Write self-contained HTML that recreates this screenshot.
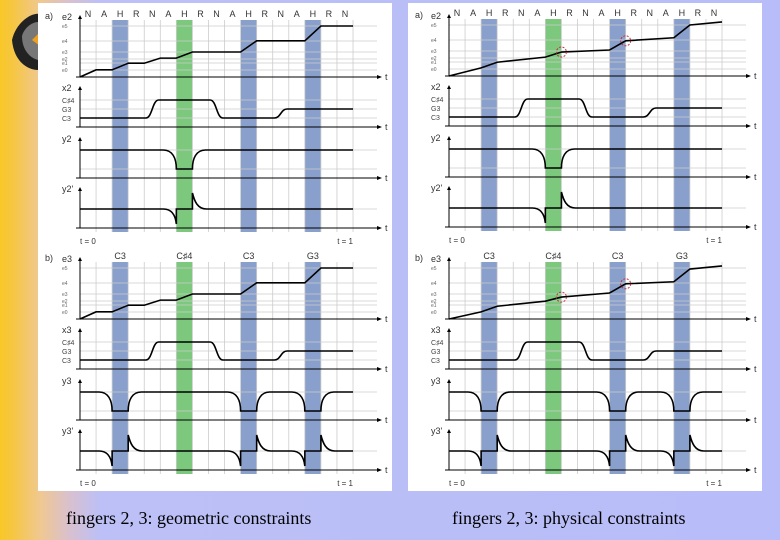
<!DOCTYPE html>
<html><head><meta charset="utf-8"><style>
html,body{margin:0;padding:0;width:780px;height:540px;overflow:hidden}
body{background:linear-gradient(90deg,#f8c828 0px,#f6c640 12px,#f0c890 40px,#d8c0d0 70px,#bcc0f6 100px,#b8bcf8 100%);position:relative;font-family:"Liberation Sans",sans-serif}
.cap{position:absolute;top:508px;font-family:"Liberation Serif",serif;font-size:18px;color:#000;white-space:nowrap}
</style></head><body>
<svg width="60" height="90" style="position:absolute;left:0;top:0">
<path d="M12,40 C16,22 32,12 40,14 L38,70 C28,70 14,62 12,40 Z" fill="#222"/>
<path d="M22,36 C24,28 32,22 38,22 L38,60 C30,58 22,50 22,36 Z" fill="#777"/>
<path d="M32,40 L40,32 L40,46 Z" fill="#f0a020"/>
</svg>
<svg id="chart" width="780" height="540" style="position:absolute;left:0;top:0"></svg>
<div class="cap" style="left:66px">fingers 2, 3: geometric constraints</div>
<div class="cap" style="left:452px">fingers 2, 3: physical constraints</div>
<script>
// ---- data (t in cell units 0..17) ----
const letters = ["N","A","H","R","N","A","H","R","N","A","H","R","N","A","H","R","N"];
const noteLabels = ["C3","C♯4","C3","G3"];
const noteCells = [2,6,10,14];
const bandCells = [2,6,10,14];
const greenBand = 6;
// e-curve (geometric), [t, value 0..1]
const eGeoT = [0,1,2,3,4,5,6,7,10,11,14,15,17];
const eGeoV = [0,0.14,0.14,0.27,0.27,0.37,0.37,0.49,0.49,0.71,0.71,1,1];
// e-curve (physical) panel a and b
const ePhysT = [0,2,3,6,7,10,11,14,15,17];
const ePhysAV = [0,0.16,0.27,0.37,0.47,0.51,0.69,0.75,1.0,1.06];
const ePhysBV = [0,0.14,0.25,0.35,0.43,0.51,0.69,0.73,0.98,1.04];
// x position curve [t, level] (1=C3,2=G3,3=C#4)
const xT = [0,4.1,4.9,8.1,8.9,12.1,12.9,17];
const xV = [1,1,3,3,1,1,2,2];
// key press intervals (start cell)
const pressA = [6];
const pressB = [2,10,14];
const circlesT = [7,11];

const svg=document.getElementById('chart');
const NS='http://www.w3.org/2000/svg';
function mk(tag,attrs,name,parent){const e=document.createElementNS(NS,tag);for(const k in attrs)e.setAttribute(k,attrs[k]);


(parent||svg).appendChild(e);return e;}
function txt(x,y,s,size,name,fill,anchor,parent){const t=mk('text',{x:x,y:y,'font-size':size,fill:fill||'#333','text-anchor':anchor||'start','font-family':'Liberation Sans, sans-serif'},name,parent);t.textContent=s;return t;}

mk('rect',{x:38,y:3,width:354,height:488,fill:'#fff'},'left-panel-bg');
mk('rect',{x:408,y:3,width:354,height:488,fill:'#fff'},'right-panel-bg');

function panel(px,ox,oy,tag,isB,ePts,eVals,phys,lab){
  const W=16.06;
  const X=t=>ox+t*W;
  const g=mk('g',{},'panel-'+tag);
  const eAx=oy+77, xAx=oy+127, yAx=oy+178, ypAx=oy+228;
  const eLev=[70,63,59,52,41,26].map(v=>v+oy);
  const xLev=[118,109,100].map(v=>v+oy);
  bandCells.forEach(c=>{mk('rect',{x:X(c),y:oy+20,width:W,height:212,fill:c===greenBand?'#7cc87c':'#8aa0cc'},c===greenBand?'green-band':'blue-band',g);});
  for(let i=1;i<=17;i++) mk('line',{x1:X(i),y1:oy+20,x2:X(i),y2:oy+232,stroke:'#ccc','stroke-width':0.8},'v-grid',g);
  const hl=[...eLev,...xLev,oy+150,oy+169,oy+209];
  hl.forEach(y=>mk('line',{x1:ox,y1:y,x2:ox+297,y2:y,stroke:'#ccc','stroke-width':0.8},'h-grid',g));
  if(!isB){letters.forEach((l,i)=>txt(X(i+0.5),oy+17,l,9,'phase-label','#333','middle',g));}
  else{noteLabels.forEach((l,i)=>txt(X(noteCells[i]+0.5),oy+17,l,9,'note-label','#333','middle',g));}
  txt(px+7,oy+19,tag+')',9,'panel-tag','#333','start',g);
  const axes=[[eAx,oy+15,lab[0]],[xAx,oy+86,lab[1]],[yAx,oy+137,lab[2]],[ypAx,oy+187,lab[3]]];
  axes.forEach(a=>{
    mk('line',{x1:ox-4,y1:a[0],x2:ox+298,y2:a[0],stroke:'#000','stroke-width':1},'time-axis',g);
    mk('path',{d:`M${ox+302},${a[0]} l-5,-2 v4 z`,fill:'#000'},'axis-arrow',g);
    txt(ox+305,a[0]+3,'t',9,'t-label','#333','start',g);
    mk('line',{x1:ox,y1:a[0],x2:ox,y2:a[1]+4,stroke:'#000','stroke-width':1},'value-axis',g);
    mk('path',{d:`M${ox},${a[1]} l-2,4 h4 z`,fill:'#000'},'axis-arrow',g);
    txt(ox-18,a[1]+5,a[2],9,'axis-title','#333','start',g);
  });
  ['e0','e1','e2','e3','e4','e5'].forEach((s,i)=>txt(ox-18,eLev[i]+2,s,5,'e-level-label','#666','start',g));
  ['C3','G3','C♯4'].forEach((s,i)=>txt(ox-18,xLev[i]+3,s,7,'x-level-label','#444','start',g));
  txt(ox,oy+244,'t = 0',8,'t0-label','#333','start',g);
  txt(ox+273,oy+244,'t = 1',8,'t1-label','#333','end',g);
  const ey=v=>eAx-v*51;
  let d='';ePts.forEach((t,i)=>{d+=(i?'L':'M')+X(t)+','+ey(eVals[i]);});
  mk('path',{d:d,fill:'none',stroke:'#000','stroke-width':1.6},'e-curve',g);
  const xy=v=>xAx-v*9;
  d='M'+X(xT[0])+','+xy(xV[0]);
  for(let i=1;i<xT.length;i++){
    const x0=X(xT[i-1]),x1=X(xT[i]),y0=xy(xV[i-1]),y1=xy(xV[i]);
    if(y0===y1) d+='L'+x1+','+y1; else {const m=(x0+x1)/2; d+=`C${m},${y0} ${m},${y1} ${x1},${y1}`;}
  }
  mk('path',{d:d,fill:'none',stroke:'#000','stroke-width':1.6},'x-curve',g);
  const presses=isB?pressB:pressA;
  const yTop=yAx-28,yBot=yAx-9,base=ypAx-19;
  d='M'+X(0)+','+yTop; let d2='M'+X(0)+','+base;
  presses.forEach(c=>{
    const a=X(c),b=X(c+1);
    d+=`L${a-13},${yTop} C${a-4},${yTop} ${a},${yTop+8} ${a},${yBot} L${b},${yBot} C${b},${yTop+8} ${b+4},${yTop} ${b+13},${yTop}`;
    d2+=`L${a-13},${base} C${a-5},${base} ${a-1},${base+6} ${a},${base+15} L${a},${base} L${b},${base} L${b},${base-16} C${b+2},${base-8} ${b+5},${base} ${b+14},${base}`;
  });
  d+='L'+X(17)+','+yTop; d2+='L'+X(17)+','+base;
  mk('path',{d:d,fill:'none',stroke:'#000','stroke-width':1.6},'y-curve',g);
  mk('path',{d:d2,fill:'none',stroke:'#000','stroke-width':1.6},'y-velocity-curve',g);
  if(phys){
    circlesT.forEach(t=>{
      let j=ePts.findIndex(v=>v>=t); let v=eVals[j];
      mk('circle',{cx:X(t),cy:ey(v),r:5,fill:'none',stroke:'#c03040','stroke-width':1,'stroke-dasharray':'2,1.5'},'constraint-marker',g);
    });
  }
}
panel(38,80,0,'a',false,eGeoT,eGeoV,false,['e2','x2','y2',"y2'"]);
panel(38,80,242,'b',true,eGeoT,eGeoV,false,['e3','x3','y3',"y3'"]);
panel(408,449,-1,'a',false,ePhysT,ePhysAV,true,['e2','x2','y2',"y2'"]);
panel(408,449,242,'b',true,ePhysT,ePhysBV,true,['e3','x3','y3',"y3'"]);
</script>
</body></html>
